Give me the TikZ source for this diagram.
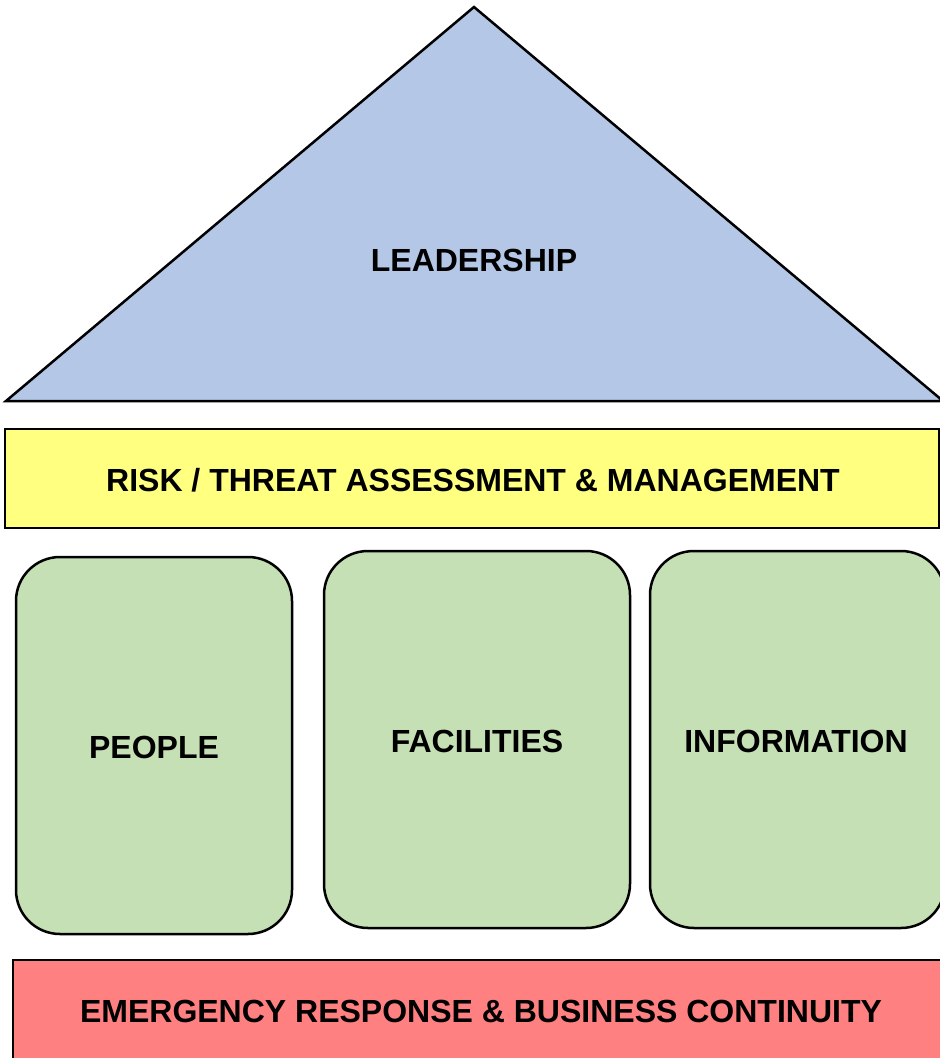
\documentclass[tikz,border=0pt]{standalone}
\usepackage{fontspec}
\setmainfont{Liberation Sans}
\definecolor{lblue}{HTML}{B4C7E7}
\definecolor{lyellow}{HTML}{FFFF80}
\definecolor{lgreen}{HTML}{C5E0B4}
\definecolor{lred}{HTML}{FF8080}
\tikzset{
  lbl/.style={font=\fontsize{32}{36}\selectfont\bfseries, text=black},
  pillar/.style={draw=black, line width=2.5pt, fill=lgreen, rounded corners=44pt},
  edge/.style={draw=black, line width=2.5pt},
}
\begin{document}
\begin{tikzpicture}[x=1pt,y=-1pt]
\useasboundingbox (0,0) rectangle (940,1058);
\clip (0,0) rectangle (940,1058);
% roof
\coordinate (apex) at (474,7);
\coordinate (bl) at (6,401);
\coordinate (br) at (943,401);
\draw[edge, fill=lblue, line join=miter] (apex) -- (br) -- (bl) -- cycle;
\node[lbl] (lead) at (474,260) {LEADERSHIP};
% risk bar
\draw[edge, fill=lyellow] (5,429) rectangle (939,528);
\node[lbl] (risk) at (473,480) {RISK / THREAT ASSESSMENT \& MANAGEMENT};
% pillars
\draw[pillar] (16,557) rectangle (292,934);
\node[lbl] (people) at (154,747) {PEOPLE};
\draw[pillar] (324,551) rectangle (630,928);
\node[lbl] (fac) at (477,741) {FACILITIES};
\draw[pillar] (650,551) rectangle (945,928);
\node[lbl] (info) at (796,741) {INFORMATION};
% base
\draw[edge, fill=lred] (13,960) rectangle (950,1075);
\node[lbl] (emer) at (481,1011) {EMERGENCY RESPONSE \& BUSINESS CONTINUITY};
\end{tikzpicture}
\end{document}
